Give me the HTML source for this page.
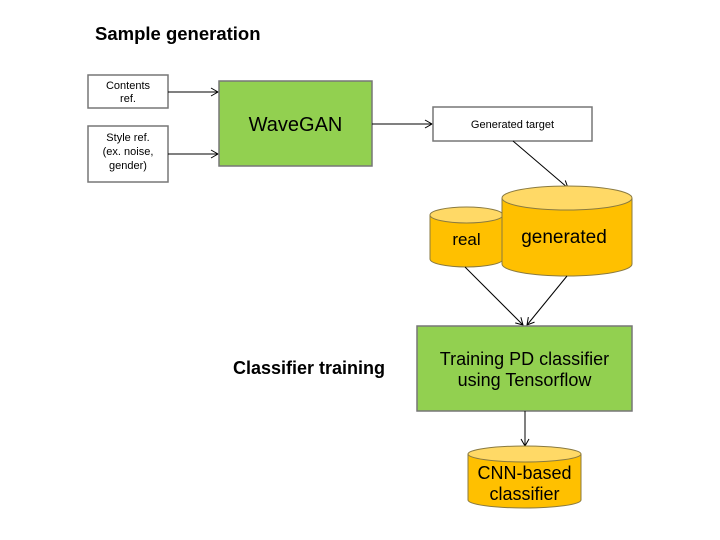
<!DOCTYPE html>
<html><head><style>body{margin:0;background:#fff}svg{display:block}</style></head><body>
<svg width="720" height="540" xmlns="http://www.w3.org/2000/svg" font-family="Liberation Sans, sans-serif">
<defs><marker id="a" markerWidth="10" markerHeight="10" refX="8" refY="5" orient="auto" markerUnits="userSpaceOnUse"><path d="M1,1 L8,5 L1,9" fill="none" stroke="#000" stroke-width="1"/></marker></defs>
<text x="95" y="40" font-size="18.5" font-weight="bold">Sample generation</text>
<text x="233" y="374" font-size="18" font-weight="bold">Classifier training</text>
<rect x="88" y="75" width="80" height="33" fill="#fff" stroke="#777" stroke-width="1.5"/>
<text x="128" y="89" font-size="11" text-anchor="middle">Contents</text>
<text x="128" y="102" font-size="11" text-anchor="middle">ref.</text>
<rect x="88" y="126" width="80" height="56" fill="#fff" stroke="#777" stroke-width="1.5"/>
<text x="128" y="141" font-size="11" text-anchor="middle">Style ref.</text>
<text x="128" y="155" font-size="11" text-anchor="middle">(ex. noise,</text>
<text x="128" y="169" font-size="11" text-anchor="middle">gender)</text>
<line x1="168" y1="92" x2="218" y2="92" stroke="#000" marker-end="url(#a)"/>
<line x1="168" y1="154" x2="218" y2="154" stroke="#000" marker-end="url(#a)"/>
<rect x="219" y="81" width="153" height="85" fill="#92d050" stroke="#777" stroke-width="1.5"/>
<text x="295.5" y="131" font-size="20" text-anchor="middle">WaveGAN</text>
<line x1="372" y1="124" x2="432" y2="124" stroke="#000" marker-end="url(#a)"/>
<rect x="433" y="107" width="159" height="34" fill="#fff" stroke="#777" stroke-width="1.5"/>
<text x="512.5" y="128" font-size="11" text-anchor="middle">Generated target</text>
<line x1="513" y1="141" x2="568" y2="188" stroke="#000" marker-end="url(#a)"/>
<path d="M430,215 L430,259 A36.5,8 0 0 0 503,259 L503,215" fill="#ffc000" stroke="#8a7a40"/>
<ellipse cx="466.5" cy="215" rx="36.5" ry="8" fill="#ffd966" stroke="#8a7a40"/>
<text x="466.5" y="245" font-size="17" text-anchor="middle">real</text>
<path d="M502,198 L502,264 A65,12 0 0 0 632,264 L632,198" fill="#ffc000" stroke="#8a7a40"/>
<ellipse cx="567" cy="198" rx="65" ry="12" fill="#ffd966" stroke="#8a7a40"/>
<text x="564" y="243" font-size="19" text-anchor="middle">generated</text>
<line x1="465" y1="267" x2="523" y2="325" stroke="#000" marker-end="url(#a)"/>
<line x1="567" y1="276" x2="527" y2="325" stroke="#000" marker-end="url(#a)"/>
<rect x="417" y="326" width="215" height="85" fill="#92d050" stroke="#777" stroke-width="1.5"/>
<text x="524.5" y="365" font-size="18" text-anchor="middle">Training PD classifier</text>
<text x="524.5" y="386" font-size="18" text-anchor="middle">using Tensorflow</text>
<line x1="525" y1="411" x2="525" y2="446" stroke="#000" marker-end="url(#a)"/>
<path d="M468,454 L468,500 A56.5,8 0 0 0 581,500 L581,454" fill="#ffc000" stroke="#8a7a40"/>
<ellipse cx="524.5" cy="454" rx="56.5" ry="8" fill="#ffd966" stroke="#8a7a40"/>
<text x="524.5" y="479" font-size="18" text-anchor="middle">CNN-based</text>
<text x="524.5" y="500" font-size="18" text-anchor="middle">classifier</text>
</svg>
</body></html>
